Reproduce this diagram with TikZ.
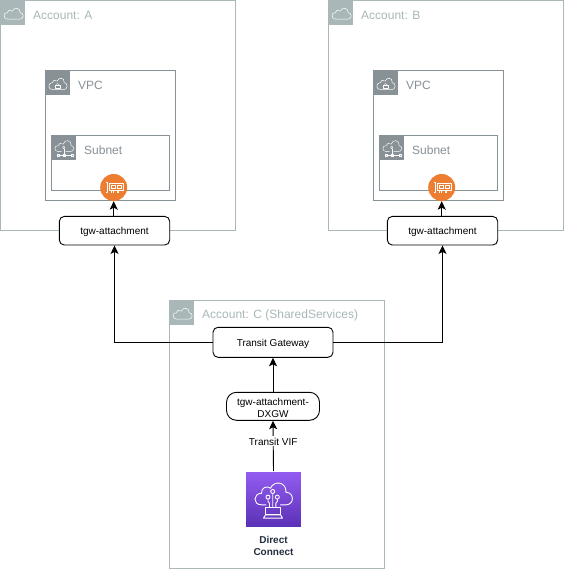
\documentclass[tikz,border=0pt]{standalone}
\usepackage{fontspec}
\setmainfont{Liberation Sans}
\usetikzlibrary{arrows.meta,calc}
\definecolor{acct}{HTML}{AAB7B8}
\definecolor{vpcg}{HTML}{879196}
\definecolor{eni}{HTML}{ED7D31}
\definecolor{dctop}{HTML}{945DF2}
\definecolor{dcbot}{HTML}{5A30B5}
\definecolor{dctext}{HTML}{232F3E}
\newcommand\lowr[1]{\raisebox{-1.2pt}[\height][\depth]{#1}}
\tikzset{
  box/.style={draw=black,fill=white,rounded corners=5pt,line width=.9pt,inner sep=0pt,align=center,font=\fontsize{10}{12}\selectfont},
  acctbox/.style={draw=acct,fill=white,line width=.8pt,anchor=north west,inner sep=0pt},
  vpcbox/.style={draw=vpcg,fill=white,line width=.8pt,anchor=north west,inner sep=0pt},
  hdr/.style={anchor=north west,inner sep=0pt,minimum size=25pt},
  acctlabel/.style={anchor=west,inner sep=0pt,text=acct,font=\fontsize{12}{14}\selectfont},
  vpclabel/.style={anchor=west,inner sep=0pt,text=vpcg,font=\fontsize{12}{14}\selectfont},
  arrow/.style={draw=black,line width=.9pt,-{Stealth[length=8.5pt,width=8pt,inset=2pt]}},
  iconline/.style={draw=white,line width=.5pt,line join=round,line cap=round},
  cloud/.pic={
    \draw[iconline] (-5,6.5) .. controls (-10,6.5) and (-9.5,-.5) .. (-5.5,0)
      .. controls (-5.5,-2.5) and (-2,-3.5) .. (-.5,-1.5)
      .. controls (1,-6) and (8,-5) .. (7.5,0)
      .. controls (11.5,0) and (11.5,6.5) .. (7,6.5) -- cycle;
  },
  lockcloud/.pic={
    \draw[iconline] (-5,7) .. controls (-10,7) and (-10,0) .. (-5.5,0)
      .. controls (-5.5,-2.5) and (-2,-3.5) .. (-.5,-1.5)
      .. controls (1,-6) and (7,-5.5) .. (6.5,0)
      .. controls (10.5,0) and (10.5,7) .. (6,7) -- cycle;
    \draw[iconline,line width=.35pt] (-2.2,2.2) rectangle (2,5);
    \draw[iconline,line width=.35pt] (-1.3,2.2) .. controls (-1.3,.2) and (1.1,.2) .. (1.1,2.2);
  },
  netcloud/.pic={
    \draw[iconline,line width=.45pt] (-2.2,4) -- (-5,4) .. controls (-10,4) and (-10,-2.5) .. (-5.5,-2)
      .. controls (-5.5,-4.5) and (-2,-5.5) .. (-.5,-3.5)
      .. controls (1,-9) and (8,-8) .. (7.5,-2)
      .. controls (11,-2) and (11,4) .. (6.5,4) -- (2.2,4);
    \draw[iconline,line width=.4pt] (0,-.3) circle (1.3);
    \draw[iconline,line width=.4pt] (0,1) -- (0,7.5);
    \draw[iconline,line width=.4pt] (-5,7.5) -- (7,7.5);
    \draw[iconline,line width=.4pt] (-7,6.4) rectangle (-5,8.6);
    \draw[iconline,line width=.4pt] (7,6.4) rectangle (9,8.6);
    \draw[iconline,line width=.4pt] (-1,6.4) rectangle (1,8.6);
  },
  enipic/.pic={
    \draw[draw=white,line width=.8pt,line join=round] (-8,-5.5) -- (-6.5,-5.5) -- (-6.5,5) -- (-8,5);
    \draw[draw=white,line width=.8pt,line join=round,fill=none] (-4.5,-4.5) rectangle (9.5,3);
    \draw[white,line width=.5pt] (-2.4,-2.6) rectangle (1.6,.9);
    \draw[white,line width=.5pt] (3.4,-2.6) rectangle (7.4,.9);
    \draw[white,line width=.7pt] (-2,3) -- (-2,5.2) (-.8,3) -- (-.8,5.2) (3.6,3)-- (3.6,5.2) (4.8,3) -- (4.8,5.2);
  },
  dcpic/.pic={
    \draw[draw=white,line width=.9pt,line join=round,line cap=round]
      (-7.5,5.5) -- (-12,5.5) .. controls (-21,5.5) and (-20.5,-6) .. (-12,-6)
      .. controls (-12.5,-12) and (-6,-14) .. (-3,-11)
      .. controls (0,-19) and (13,-18) .. (12.5,-7)
      .. controls (21,-7) and (21,5.5) .. (12.5,5.5) -- (7,5.5);
    \draw[white,line width=.9pt] (-.8,-7.8) circle (2) (-5.5,-2.2) circle (2) (3.8,-2.2) circle (2);
    \draw[white,line width=.9pt] (-.8,-5.8) -- (-.8,8.5) (-5.5,-.2) -- (-5.5,2) -- (-4,4) -- (-4,8.5) (3.8,-.2) -- (3.8,2) -- (2.4,4) -- (2.4,8.5);
    \draw[white,line width=.9pt,line join=round] (-8,8.5) rectangle (7,15.5);
    \draw[white,line width=.9pt,line join=round] (-10,18.8) -- (-8,15.5) -- (7,15.5) -- (9,18.8) -- cycle;
  },
}
\begin{document}
\begin{tikzpicture}[x=1pt,y=-1pt,line cap=butt]
\useasboundingbox (0,0) rectangle (564,569);

% Account A
\node[acctbox,minimum width=235pt,minimum height=230pt] (acctA) at (.3,.3) {};
\node[hdr,fill=acct] (acctAh) at (0,0) {};
\pic at (acctAh.center) {cloud};
\node[acctlabel] (acctAl) at (33,15) {Account: A};
\node[vpcbox,minimum width=130pt,minimum height=130pt] (vpcA) at (45.3,70.3) {};
\node[hdr,fill=vpcg] (vpcAh) at (45,70) {};
\pic at (vpcAh.center) {lockcloud};
\node[vpclabel] (vpcAl) at (78,85) {VPC};
\node[vpcbox,minimum width=118pt,minimum height=55pt] (subA) at (51.3,135.3) {};
\node[hdr,fill=vpcg] (subAh) at (51,135) {};
\pic at (subAh.center) {netcloud};
\node[vpclabel] (subAl) at (84,150) {Subnet};
\node[circle,fill=eni,minimum size=27pt,inner sep=0pt] (eniA) at (113.7,187.5) {};
\pic at (eniA.center) {enipic};
\node[box,minimum width=110.4pt,minimum height=28.6pt] (tgwA) at (114.5,230.7) {\lowr{tgw-attachment}};

% Account B
\node[acctbox,minimum width=235pt,minimum height=230pt] (acctB) at (328.3,.3) {};
\node[hdr,fill=acct] (acctBh) at (328,0) {};
\pic at (acctBh.center) {cloud};
\node[acctlabel] (acctBl) at (361,15) {Account: B};
\node[vpcbox,minimum width=130pt,minimum height=130pt] (vpcB) at (373.3,70.3) {};
\node[hdr,fill=vpcg] (vpcBh) at (373,70) {};
\pic at (vpcBh.center) {lockcloud};
\node[vpclabel] (vpcBl) at (406,85) {VPC};
\node[vpcbox,minimum width=118pt,minimum height=55pt] (subB) at (379.3,135.3) {};
\node[hdr,fill=vpcg] (subBh) at (379,135) {};
\pic at (subBh.center) {netcloud};
\node[vpclabel] (subBl) at (412,150) {Subnet};
\node[circle,fill=eni,minimum size=27pt,inner sep=0pt] (eniB) at (441.7,187.5) {};
\pic at (eniB.center) {enipic};
\node[box,minimum width=110.4pt,minimum height=28.6pt] (tgwB) at (442.5,230.7) {\lowr{tgw-attachment}};

% Account C
\node[acctbox,minimum width=215pt,minimum height=267.6pt] (acctC) at (169.3,300.3) {};
\node[hdr,fill=acct] (acctCh) at (169,300) {};
\pic at (acctCh.center) {cloud};
\node[acctlabel] (acctCl) at (202,315) {Account: C (SharedServices)};

\node[box,minimum width=120pt,minimum height=30pt] (tg) at (273,342.3) {\lowr{Transit Gateway}};
\node[box,minimum width=93pt,minimum height=28pt,rounded corners=10pt] (dxgw) at (273,406.3) {\lowr{tgw-attachment-}\\\lowr{DXGW}};

\node[inner sep=0pt,minimum size=56pt,top color=dctop,bottom color=dcbot,draw=white,line width=.4pt] (dc) at (273.5,499.3) {};
\pic at (dc.center) {dcpic};
\node[inner sep=0pt,align=center,font=\fontsize{10}{12}\bfseries\selectfont,text=dctext] (dcl) at (273.5,546) {Direct\\Connect};

% Connectors
\draw[arrow] (tgwA.north -| eniA) -- (eniA.south);
\draw[arrow] (tgwB.north -| eniB) -- (eniB.south);
\draw[arrow] (tg.west) -| (tgwA.south);
\draw[arrow] (tg.east) -| (tgwB.south);
\draw[arrow] (dxgw.north) -- (tg.south);
\draw[arrow] (dc.north) -- node[fill=white,inner sep=1pt,pos=.6,font=\fontsize{10}{12}\selectfont] (vif) {\lowr{Transit VIF}} (dxgw.south);
\end{tikzpicture}
\end{document}
